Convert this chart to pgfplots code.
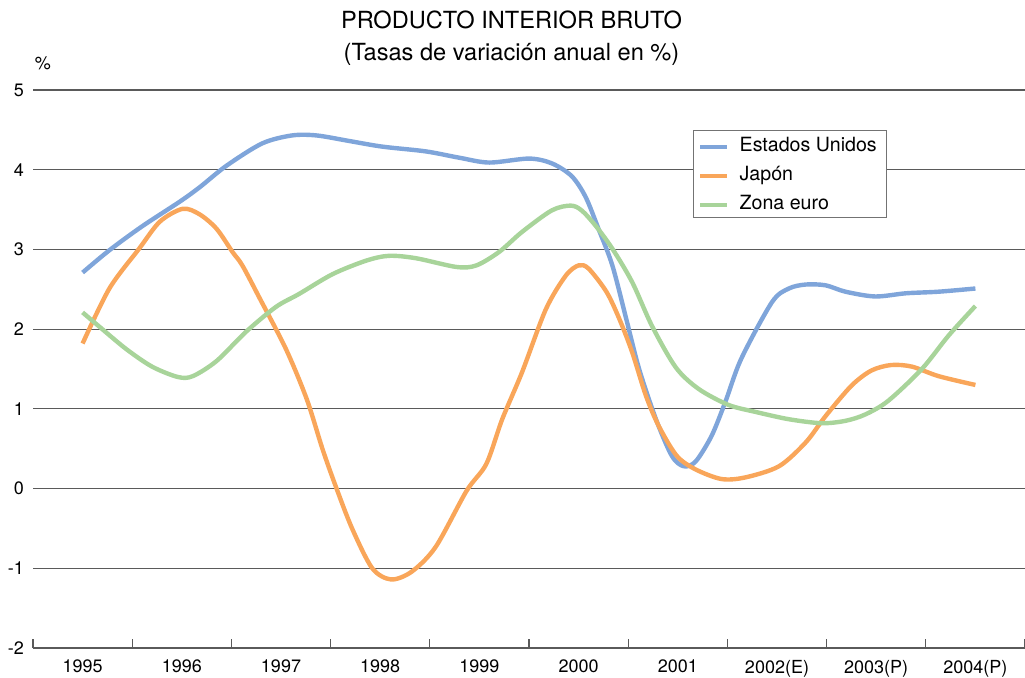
\documentclass[border=0pt]{standalone}
\usepackage{fontspec}
\setmainfont{TeX Gyre Heros}
\usepackage{pgfplots}
\pgfplotsset{compat=1.18}
\definecolor{eeuu}{HTML}{7FA5DA}
\definecolor{japon}{HTML}{F9A65A}
\definecolor{zona}{HTML}{A8D49A}
\definecolor{rejilla}{HTML}{5A5A5A}

\begin{document}
\begin{tikzpicture}
\path[use as bounding box] (0,0) rectangle (512.5pt,338.5pt);
\node[font=\fontsize{11.8}{13}\selectfont, anchor=base, inner sep=0pt] at (255.75pt,324.5pt) {PRODUCTO INTERIOR BRUTO};
\node[font=\fontsize{11.8}{13}\selectfont, anchor=base, inner sep=0pt] at (255.75pt,308.5pt) {(Tasas de variación anual en \%)};
\node[font=\fontsize{9}{11}\selectfont, anchor=base, inner sep=0pt] at (21.5pt,304pt) {\%};
\begin{axis}[
  at={(16.5pt,14.5pt)}, anchor=south west,
  scale only axis, width=496pt, height=279pt,
  xmin=-0.5, xmax=9.5, ymin=-2, ymax=5,
  axis line style={draw=none},
  ytick={-2,...,5}, yticklabels={-2,-1,0,1,2,3,4,5},
  ymajorgrids, grid style={rejilla, line width=0.6pt},
  xtick={0,...,9},
  xticklabels={1995,1996,1997,1998,1999,2000,2001,2002(E),2003(P),2004(P)},
  major tick length=0pt,
  xtick pos=bottom, ytick pos=left,
  extra x ticks={-0.5,0.5,...,9.5}, extra x tick labels={},
  extra x tick style={major tick length=4.5pt, tick align=inside,
    tick style={rejilla, line width=0.6pt}},
  tick label style={font=\fontsize{9}{11}\selectfont},
  x tick label style={yshift=-2.5pt},
  y tick label style={xshift=-1pt},
  legend style={at={(0.665,0.928)}, anchor=north west, draw=black!55,
    line width=0.6pt, inner xsep=2.5pt, inner ysep=0pt,
    font=\fontsize{9.8}{11}\selectfont,
    nodes={inner sep=2.5pt, text height=8pt, text depth=1.5pt},
    column sep=2.5pt},
  legend cell align=left,
  legend image code/.code={\draw[#1, line width=2.2pt] (0pt,-1pt) -- (13.5pt,-1pt);},
]
\addplot[eeuu, line width=2.2pt, smooth] coordinates {
(0.00,2.71) (0.27,2.99) (0.60,3.29) (0.98,3.60) (1.18,3.78) (1.45,4.05)
(1.81,4.33) (2.11,4.43) (2.36,4.43) (2.69,4.36) (3.02,4.29) (3.46,4.23)
(3.80,4.15) (4.10,4.09) (4.50,4.14) (4.73,4.08) (4.93,3.92) (5.07,3.66)
(5.20,3.26) (5.34,2.80) (5.48,2.13) (5.61,1.50) (5.78,0.87) (5.94,0.41)
(6.06,0.28) (6.18,0.34) (6.34,0.66) (6.48,1.09) (6.64,1.63) (6.95,2.34)
(7.12,2.51) (7.29,2.56) (7.49,2.55) (7.69,2.47) (7.99,2.41) (8.30,2.45)
(8.63,2.47) (9.00,2.51)
};
\addlegendentry{Estados Unidos}
\addplot[japon, line width=2.2pt, smooth] coordinates {
(0.00,1.82) (0.27,2.51) (0.57,3.01) (0.78,3.35) (1.01,3.51) (1.18,3.44)
(1.35,3.26) (1.51,2.97) (1.61,2.80) (1.78,2.40) (2.05,1.75) (2.26,1.12)
(2.42,0.49) (2.56,0.00) (2.72,-0.51) (2.92,-1.00) (3.11,-1.14) (3.32,-1.04)
(3.56,-0.73) (3.87,-0.03) (4.07,0.31) (4.23,0.87) (4.43,1.46) (4.67,2.25)
(4.87,2.67) (5.00,2.80) (5.10,2.76) (5.28,2.47) (5.41,2.13) (5.54,1.71)
(5.68,1.16) (5.81,0.78) (5.99,0.41) (6.18,0.24) (6.44,0.12) (6.68,0.14)
(7.02,0.28) (7.29,0.58) (7.49,0.91) (7.75,1.29) (7.95,1.48) (8.15,1.55)
(8.36,1.53) (8.63,1.41) (9.00,1.30)
};
\addlegendentry{Japón}
\addplot[zona, line width=2.2pt, smooth] coordinates {
(0.00,2.21) (0.17,2.03) (0.44,1.75) (0.70,1.53) (0.96,1.40) (1.11,1.41)
(1.35,1.60) (1.65,1.97) (1.95,2.28) (2.18,2.44) (2.52,2.69) (2.86,2.86)
(3.09,2.92) (3.36,2.89) (3.77,2.78) (3.97,2.80) (4.20,2.97) (4.43,3.22)
(4.73,3.49) (4.92,3.55) (5.03,3.49) (5.17,3.30) (5.34,3.01) (5.54,2.59)
(5.74,2.04) (5.98,1.52) (6.21,1.25) (6.51,1.05) (6.79,0.96) (7.12,0.87)
(7.45,0.82) (7.69,0.85) (7.89,0.93) (8.12,1.10) (8.46,1.50) (8.73,1.92)
(9.00,2.29)
};
\addlegendentry{Zona euro}
\end{axis}
\end{tikzpicture}
\end{document}
